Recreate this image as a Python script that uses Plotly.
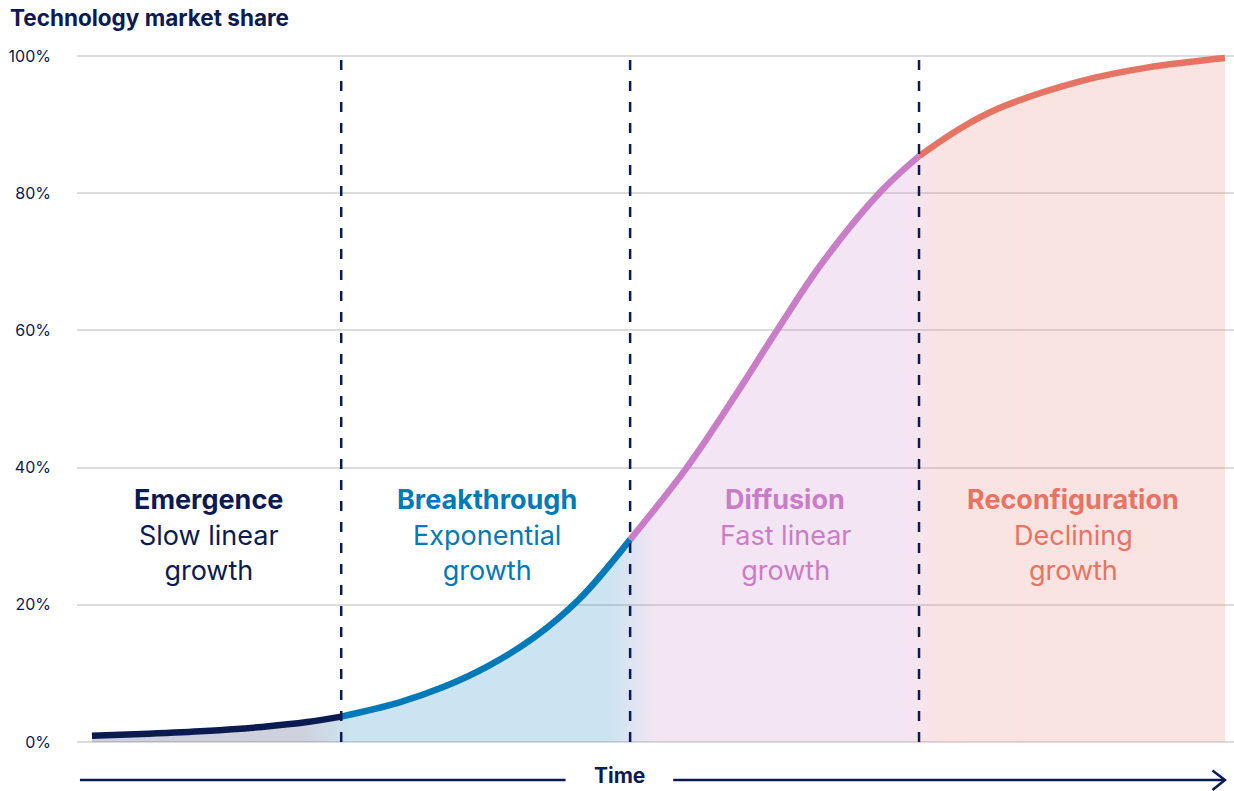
import plotly.graph_objects as go

# Technology adoption S-curve
# time runs 0..100 (arbitrary units), share in %
emergence_t = [0, 5, 10, 15, 19, 22]
emergence_share = [0.9, 1.2, 1.6, 2.2, 2.9, 3.7]

breakthrough_t = [22, 27, 31, 35, 39, 43, 47.5]
breakthrough_share = [3.7, 5.7, 8.0, 11.1, 15.2, 20.8, 29.5]

diffusion_t = [47.5, 52.5, 56.9, 60.5, 64.3, 69.6, 73]
diffusion_share = [29.5, 40.0, 50.8, 60.1, 69.5, 80.2, 85.4]

reconfig_t = [73, 76.6, 80.1, 87.2, 93.1, 100]
reconfig_share = [85.4, 89.4, 92.4, 96.3, 98.3, 99.7]

phase_bounds = [22, 47.5, 73]
phase_names = ["Emergence", "Breakthrough", "Diffusion", "Reconfiguration"]
phase_desc = ["Slow linear<br>growth", "Exponential<br>growth", "Fast linear<br>growth", "Declining<br>growth"]
label_x = [10.3, 34.9, 61.2, 86.6]

y_ticks = [0, 20, 40, 60, 80, 100]
y_labels = ["0%", "20%", "40%", "60%", "80%", "100%"]

NAVY = "#0c1a52"
line_colors = [NAVY, "#0079b8", "#c97dc6", "#e57465"]
fill_colors = ["rgba(13,27,82,0.2)", "rgba(0,121,184,0.2)",
               "rgba(201,125,198,0.2)", "rgba(229,116,101,0.2)"]
FONT = "Inter"

phases_t = [emergence_t, breakthrough_t, diffusion_t, reconfig_t]
phases_share = [emergence_share, breakthrough_share, diffusion_share, reconfig_share]

fig = go.Figure()

# one filled area under the whole curve, colour blends between phases
all_t = emergence_t + breakthrough_t[1:] + diffusion_t[1:] + reconfig_t[1:]
all_share = emergence_share + breakthrough_share[1:] + diffusion_share[1:] + reconfig_share[1:]
fig.add_trace(go.Scatter(
    x=all_t, y=all_share, mode="lines", line=dict(width=0, shape="spline"),
    fill="tozeroy",
    fillgradient=dict(type="horizontal", start=0, stop=100, colorscale=[
        [0, fill_colors[0]], [0.185, fill_colors[0]],
        [0.23, fill_colors[1]], [0.457, fill_colors[1]],
        [0.50, fill_colors[2]], [0.72, fill_colors[2]],
        [0.755, fill_colors[3]], [1, fill_colors[3]],
    ]),
    hoverinfo="skip", showlegend=False))

# the coloured curve, one piece per phase
for t, s, c in zip(phases_t, phases_share, line_colors):
    fig.add_trace(go.Scatter(x=t, y=s, mode="lines",
                             line=dict(color=c, width=6.5, shape="spline"),
                             hoverinfo="skip", showlegend=False))

# dashed phase boundaries
for b in phase_bounds:
    fig.add_shape(type="line", xref="x", yref="y", x0=b, x1=b, y0=0, y1=100,
                  line=dict(color=NAVY, width=2.5, dash="10px,11px"))

# phase labels
for x, name, desc, c in zip(label_x, phase_names, phase_desc, line_colors):
    fig.add_annotation(x=x, y=35.3, xref="x", yref="y", text=f"<b>{name}</b>",
                       showarrow=False, font=dict(family=FONT, size=27, color=c))
    fig.add_annotation(x=x, y=27.5, xref="x", yref="y", text=desc,
                       showarrow=False, font=dict(family=FONT, size=27, color=c))

# time arrow below the plot
ya = -0.0504
fig.add_shape(type="line", xref="x", yref="paper", x0=-1.06, x1=41.8, y0=ya, y1=ya,
              line=dict(color=NAVY, width=2.5))
fig.add_shape(type="line", xref="x", yref="paper", x0=51.3, x1=100, y0=ya, y1=ya,
              line=dict(color=NAVY, width=2.5))
fig.add_shape(type="path", xref="x", yref="paper",
              path=f"M 98.9 {ya + 0.0136} L 100 {ya} L 98.9 {ya - 0.0143}",
              line=dict(color=NAVY, width=2.5))
fig.add_annotation(x=46.6, y=-0.0640, xref="x", yref="paper", text="<b>Time</b>",
                   showarrow=False, yanchor="bottom", borderpad=0,
                   font=dict(family=FONT, size=21, color=NAVY))

fig.update_layout(
    width=1234, height=791,
    margin=dict(l=77, r=0, t=50, b=46),
    plot_bgcolor="white", paper_bgcolor="white",
    font=dict(family=FONT, color=NAVY),
    title=dict(text="<b>Technology market share</b>", x=10 / 1234, xref="container",
               xanchor="left", y=1 - 18 / 791, yanchor="middle",
               font=dict(family=FONT, size=22.5, color=NAVY)),
    xaxis=dict(range=[-1.32, 100.8], showgrid=False, zeroline=False,
               showticklabels=False, fixedrange=True),
    yaxis=dict(range=[-0.44, 100.87], tickvals=y_ticks, ticktext=y_labels,
               showgrid=True, gridcolor="#dcdcdc", gridwidth=1.5, zeroline=False,
               tickfont=dict(family=FONT, size=16, color=NAVY),
               ticklabelstandoff=25, fixedrange=True),
)

# drop the browser's default page margin so the figure sits at 0,0
fig.write_html("out.html", config={"displayModeBar": False},
               post_script="document.body.style.margin='0';")
